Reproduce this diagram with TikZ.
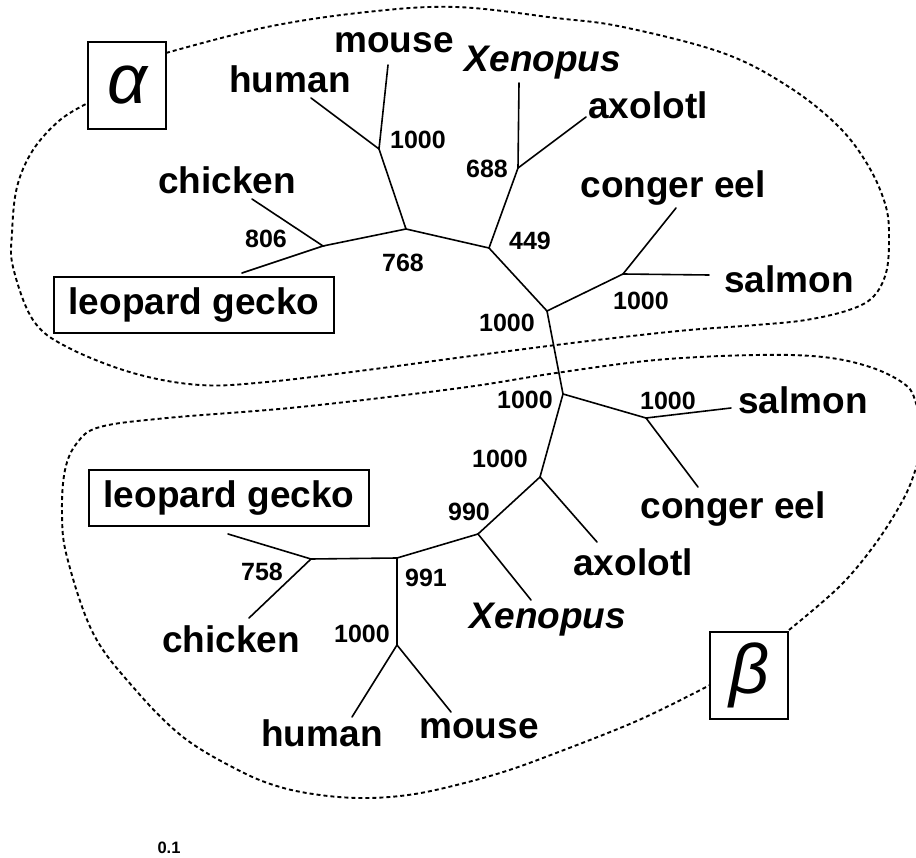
\documentclass[tikz,border=0pt]{standalone}
\usepackage{fontspec}
\setmainfont{Liberation Sans}
\begin{document}
\begin{tikzpicture}[x=1pt,y=-1pt,
  br/.style={line width=1.6pt, line cap=round},
  sp/.style={font=\fontsize{37}{40}\selectfont\bfseries, inner sep=0pt},
  spi/.style={font=\fontsize{37}{40}\selectfont\bfseries\itshape, inner sep=0pt},
  bs/.style={font=\fontsize{25}{28}\selectfont\bfseries, inner sep=0pt},
  boxed/.style={sp, draw, line width=1.6pt, minimum width=280pt, minimum height=56pt},
  greek/.style={draw, line width=1.6pt, minimum width=78pt, minimum height=87pt, inner sep=0pt, font=\fontsize{70}{72}\selectfont\itshape},
  clade/.style={line width=1.9pt, dash pattern=on 4pt off 3pt}]
\useasboundingbox (0,0) rectangle (916,858);
\clip (0,0) rectangle (916,858);

% clade outlines
\draw[clade] plot[smooth, tension=0.6] coordinates {
 (166,53) (267,27) (367,12) (456,7) (556,18) (623,27) (723,53) (789,87) (839,127) (869,167) (886,207) (889,240) (886,273) (873,297) (849,310) (806,320) (756,325) (689,330) (623,337) (556,345) (456,358) (367,370) (267,382) (200,385) (133,373) (67,347) (33,320) (13,267) (12,233) (17,187) (33,150) (60,120) (88,103)};
\draw[clade] plot[smooth, tension=0.6] coordinates {
 (789,630) (839,587) (873,547) (899,507) (913,477) (922,440) (915,400) (903,383) (870,367) (823,357) (756,355) (656,360) (556,373) (460,388) (300,407) (167,418) (100,427) (77,443) (65,470) (62,513) (67,557) (93,633) (133,687) (183,737) (240,771) (280,787) (320,795) (360,798) (400,796) (440,789) (500,773) (556,753) (639,720) (710,685)};

% alpha subtree coordinates
\coordinate (a1) at (379,149);
\coordinate (amouse) at (388,65);
\coordinate (ahuman) at (311,98);
\coordinate (a2) at (406,229);
\coordinate (a3) at (323,246);
\coordinate (achicken) at (252,199);
\coordinate (agecko) at (242,273);
\coordinate (a4) at (489,248);
\coordinate (a5) at (518,168);
\coordinate (axen) at (519,83);
\coordinate (aaxo) at (586,117);
\coordinate (a6) at (547,311);
\coordinate (a7) at (623,274);
\coordinate (aconger) at (676,208);
\coordinate (asalmon) at (709,275);
% beta subtree coordinates
\coordinate (b1) at (563,394);
\coordinate (b2) at (646,418);
\coordinate (bsalmon) at (731,408);
\coordinate (bconger) at (698,487);
\coordinate (b3) at (540,477);
\coordinate (baxo) at (597,542);
\coordinate (b4) at (478,534);
\coordinate (bxen) at (531,600);
\coordinate (b5) at (397,558);
\coordinate (b6) at (311,559);
\coordinate (bgecko) at (228,534);
\coordinate (bchicken) at (249,618);
\coordinate (b7) at (397,645);
\coordinate (bhuman) at (352,717);
\coordinate (bmouse) at (451,712);

% branches
\draw[br] (amouse) -- (a1) -- (ahuman);
\draw[br] (a1) -- (a2);
\draw[br] (achicken) -- (a3) -- (agecko);
\draw[br] (a3) -- (a2) -- (a4);
\draw[br] (axen) -- (a5) -- (aaxo);
\draw[br] (a5) -- (a4) -- (a6);
\draw[br] (a6) -- (a7);
\draw[br] (aconger) -- (a7) -- (asalmon);
\draw[br] (a6) -- (b1);
\draw[br] (b1) -- (b2);
\draw[br] (bsalmon) -- (b2) -- (bconger);
\draw[br] (b1) -- (b3) -- (baxo);
\draw[br] (b3) -- (b4) -- (bxen);
\draw[br] (b4) -- (b5) -- (b6);
\draw[br] (bgecko) -- (b6) -- (bchicken);
\draw[br] (b5) -- (b7);
\draw[br] (bhuman) -- (b7) -- (bmouse);

% greek boxes
\node[greek] (alpha) at (127,85.5) {α};
\node[greek] (beta) at (749,675.5) {β};

% alpha labels
\node[sp] (lamouse) at (394,43) {mouse};
\node[sp] (lahuman) at (290,79) {human};
\node[spi] (laxen) at (543,63) {Xenopus};
\node[sp] (laaxo) at (648,105) {axolotl};
\node[sp] (lachicken) at (227,180) {chicken};
\node[sp] (laconger) at (673,188) {conger eel};
\node[sp] (lasalmon) at (789,279) {salmon};
\node[boxed] (lagecko) at (194,305) {leopard gecko};
% beta labels
\node[sp] (lbsalmon) at (803,400) {salmon};
\node[sp] (lbconger) at (733,509) {conger eel};
\node[sp] (lbaxo) at (633,562) {axolotl};
\node[spi] (lbxen) at (548,620) {Xenopus};
\node[sp] (lbchicken) at (231,639) {chicken};
\node[sp] (lbhuman) at (322,733) {human};
\node[sp] (lbmouse) at (479,729) {mouse};
\node[boxed] (lbgecko) at (229,498) {leopard gecko};

% bootstrap values
\node[bs] (n1) at (418,140) {1000};
\node[bs] (n2) at (266,239) {806};
\node[bs] (n3) at (403,263) {768};
\node[bs] (n4) at (487,169) {688};
\node[bs] (n5) at (530,241) {449};
\node[bs] (n6) at (641,301) {1000};
\node[bs] (n7) at (507,323) {1000};
\node[bs] (n8) at (525,400) {1000};
\node[bs] (n9) at (668,401) {1000};
\node[bs] (n10) at (500,459) {1000};
\node[bs] (n11) at (469,512) {990};
\node[bs] (n12) at (426,578) {991};
\node[bs] (n13) at (262,572) {758};
\node[bs] (n14) at (362,634) {1000};

% scale
\node[font=\fontsize{16.5}{18}\selectfont\bfseries, inner sep=0pt] (scale) at (169,848) {0.1};
\end{tikzpicture}
\end{document}
